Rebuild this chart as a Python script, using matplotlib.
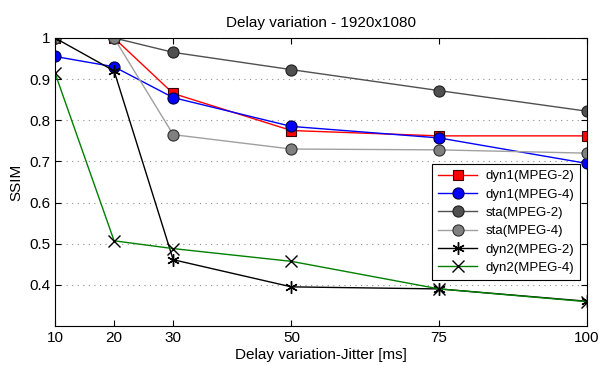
import matplotlib
matplotlib.use("Agg")
import matplotlib.pyplot as plt

plt.rcParams['font.family'] = ['Liberation Sans', 'DejaVu Sans']

jitter = [10, 20, 30, 50, 75, 100]
dyn1_mpeg2 = [1.0, 1.0, 0.865, 0.775, 0.762, 0.762]
dyn1_mpeg4 = [0.955, 0.93, 0.855, 0.785, 0.757, 0.695]
sta_mpeg2 = [1.0, 1.0, 0.965, 0.923, 0.872, 0.822]
sta_mpeg4 = [1.0, 1.0, 0.765, 0.730, 0.728, 0.720]
dyn2_mpeg2 = [1.0, 0.92, 0.461, 0.395, 0.390, 0.360]
dyn2_mpeg4 = [0.915, 0.507, 0.488, 0.457, 0.390, 0.359]

yticks = [0.4, 0.5, 0.6, 0.7, 0.8, 0.9, 1.0]
ytick_labels = ['0.4', '0.5', '0.6', '0.7', '0.8', '0.9', '1']

fig = plt.figure(figsize=(5.99, 3.65), dpi=100)
ax = fig.add_axes([0.0918, 0.107, 0.888, 0.789])

ax.plot(jitter, dyn1_mpeg2, color='red', lw=1, marker='s', ms=6.5,
        mfc='red', mec='#400000', mew=0.8, label='dyn1(MPEG-2)')
ax.plot(jitter, dyn1_mpeg4, color='blue', lw=1, marker='o', ms=8,
        mfc='blue', mec='#000040', mew=0.8, label='dyn1(MPEG-4)')
ax.plot(jitter, sta_mpeg2, color='#505050', lw=1, marker='o', ms=8,
        mfc='#505050', mec='#202020', mew=0.8, label='sta(MPEG-2)')
ax.plot(jitter, sta_mpeg4, color='#a0a0a0', lw=1, marker='o', ms=8,
        mfc='#808080', mec='#303030', mew=0.8, label='sta(MPEG-4)')
ax.plot(jitter, dyn2_mpeg2, color='black', lw=1, marker=(6, 2, 0), ms=9,
        mec='black', mew=1, label='dyn2(MPEG-2)')
ax.plot(jitter, dyn2_mpeg4, color='#008000', lw=1, marker='x', ms=8,
        mec='black', mew=1, label='dyn2(MPEG-4)')

ax.set_xlim(10, 100)
ax.set_ylim(0.3, 1.0)
ax.set_xticks(jitter)
ax.set_xticklabels([str(v) for v in jitter])
ax.set_yticks(yticks)
ax.set_yticklabels(ytick_labels)
ax.tick_params(direction='in', top=True, right=True, labelsize=11, length=4)
ax.yaxis.grid(True, linestyle=(0, (1, 4)), color='#909090', lw=0.8)
ax.set_axisbelow(True)

ax.set_title('Delay variation - 1920x1080', fontsize=11, pad=8)
ax.set_xlabel('Delay variation-Jitter [ms]', fontsize=11, labelpad=2)
ax.set_ylabel('SSIM', fontsize=11, labelpad=4)

leg = ax.legend(loc='lower right', bbox_to_anchor=(0.987, 0.16), fontsize=9.5,
                fancybox=False, framealpha=1, edgecolor='black',
                borderaxespad=0, handlelength=3.0, handletextpad=0.6,
                borderpad=0.45, labelspacing=0.46)
leg.get_frame().set_linewidth(0.8)

fig.savefig('out.png', dpi=100)
